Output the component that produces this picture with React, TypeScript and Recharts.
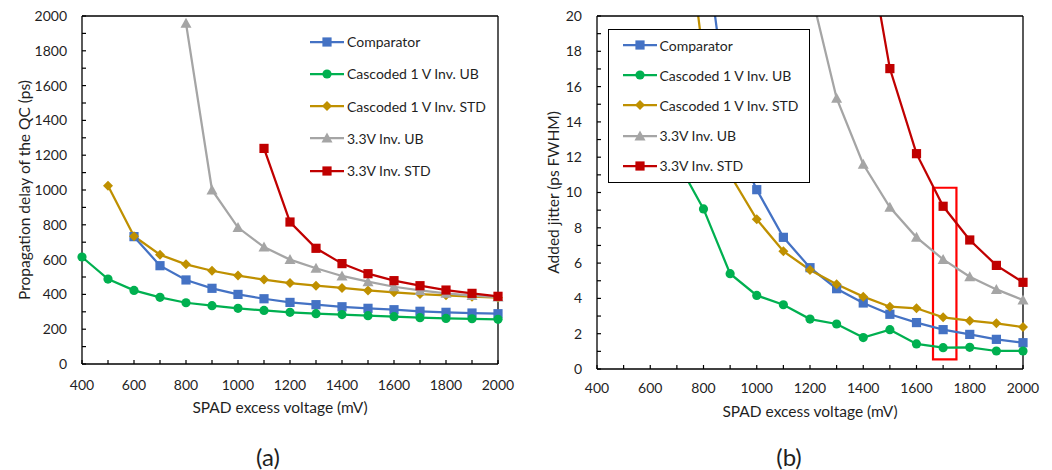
import React from "react";
import { LineChart, Line, XAxis, YAxis, Legend, ReferenceArea } from "recharts";

// SPAD excess voltage (mV)
const voltages = [400, 500, 600, 700, 800, 900, 1000, 1100, 1200, 1300, 1400, 1500, 1600, 1700, 1800, 1900, 2000];

const seriesNames = ["Comparator", "Cascoded 1 V Inv. UB", "Cascoded 1 V Inv. STD", "3.3V Inv. UB", "3.3V Inv. STD"];
const seriesKeys = ["cmp", "cub", "cstd", "hub", "hstd"];
const seriesColors = ["#4472C4", "#00B050", "#BF9000", "#A5A5A5", "#C00000"];
const seriesShapes = ["square", "circle", "diamond", "triangle", "square"];

// (a) propagation delay of the QC (ps)
const delayComparator = [null, null, 732, 565, 483, 435, 400, 375, 354, 341, 329, 320, 312, 303, 297, 293, 289];
const delayCascUB = [615, 488, 423, 383, 352, 335, 320, 308, 297, 289, 284, 278, 272, 266, 262, 260, 257];
const delayCascSTD = [null, 1025, 734, 628, 573, 536, 508, 485, 465, 450, 437, 423, 412, 402, 395, 387, 381];
const delay33UB = [null, null, null, null, 1958, 1000, 784, 672, 600, 550, 506, 473, 444, 423, 406, 393, 385];
const delay33STD = [null, null, null, null, null, null, null, 1239, 816, 665, 577, 519, 479, 450, 425, 406, 389];

// (b) added jitter (ps FWHM), values above 20 run off the top of the plot
const jitterComparator = [null, null, null, null, 25, 13.5, 10.16, 7.46, 5.74, 4.55, 3.74, 3.1, 2.63, 2.23, 1.96, 1.68, 1.49];
const jitterCascUB = [null, null, null, 11.8, 9.07, 5.4, 4.17, 3.64, 2.83, 2.55, 1.78, 2.23, 1.42, 1.21, 1.23, 1.02, 1.02];
const jitterCascSTD = [null, null, null, 29.7, 17.6, 11.0, 8.48, 6.67, 5.61, 4.8, 4.1, 3.53, 3.44, 2.93, 2.74, 2.59, 2.38];
const jitter33UB = [null, null, null, null, null, null, null, null, 21.6, 15.34, 11.6, 9.16, 7.46, 6.21, 5.23, 4.51, 3.91];
const jitter33STD = [null, null, null, null, null, null, null, null, null, null, 25.6, 17.02, 12.2, 9.22, 7.31, 5.87, 4.91];

const delayTicks = [0, 100, 200, 300, 400, 500, 600, 700, 800, 900, 1000, 1100, 1200, 1300, 1400, 1500, 1600, 1700, 1800, 1900, 2000];
const jitterTicks = [0, 1, 2, 3, 4, 5, 6, 7, 8, 9, 10, 11, 12, 13, 14, 15, 16, 17, 18, 19, 20];
const jitterMax = 20;

// highlighted region in (b)
const boxX = [1662, 1750];
const boxY = [0.55, 10.27];

const delaySeries = [delayComparator, delayCascUB, delayCascSTD, delay33UB, delay33STD];
const jitterSeries = [jitterComparator, jitterCascUB, jitterCascSTD, jitter33UB, jitter33STD];

const delayRows = voltages.map((v, i) => {
  const row: any = { v };
  seriesKeys.forEach((k, s) => (row[k] = delaySeries[s][i]));
  return row;
});

const jitterRows = voltages.map((v, i) => {
  const row: any = { v };
  seriesKeys.forEach((k, s) => {
    const val = jitterSeries[s][i];
    row[k] = val;
    row[k + "_m"] = val != null && val <= jitterMax ? val : null;
  });
  return row;
});

const FONT = "Lato, 'Open Sans', sans-serif";
const AXIS = "#000";
const TEXT = "#1f1f1f";

function Marker({ cx, cy, shape, color }: { cx: number; cy: number; shape: string; color: string }) {
  if (shape === "circle") return <circle cx={cx} cy={cy} r={4.6} fill={color} />;
  if (shape === "diamond")
    return <polygon points={`${cx},${cy - 5} ${cx + 5},${cy} ${cx},${cy + 5} ${cx - 5},${cy}`} fill={color} />;
  if (shape === "triangle")
    return <polygon points={`${cx},${cy - 5.5} ${cx + 5.5},${cy + 4.5} ${cx - 5.5},${cy + 4.5}`} fill={color} />;
  return <rect x={cx - 4.6} y={cy - 4.6} width={9.2} height={9.2} fill={color} />;
}

const makeDot = (shape: string, color: string) => (props: any) => {
  const { cx, cy, value, index } = props;
  if (value == null || typeof cx !== "number" || typeof cy !== "number" || isNaN(cy)) return <g key={`d-${index}`} />;
  return (
    <g key={`d-${index}`}>
      <Marker cx={cx} cy={cy} shape={shape} color={color} />
    </g>
  );
};

function LegendList({ rowHeight, bordered }: { rowHeight: number; bordered: boolean }) {
  return (
    <div
      style={{
        boxSizing: "border-box",
        border: bordered ? "1.5px solid #000" : "none",
        background: bordered ? "#fff" : "transparent",
        paddingLeft: bordered ? 13.5 : 0,
        width: "100%",
        height: "100%",
        fontFamily: FONT,
        fontSize: 14,
        color: TEXT,
      }}
    >
      {seriesNames.map((name, i) => (
        <div key={name} style={{ display: "flex", alignItems: "center", height: rowHeight, whiteSpace: "nowrap" }}>
          <svg width={34} height={12} style={{ marginRight: 3 }}>
            <line x1={0} y1={6} x2={34} y2={6} stroke={seriesColors[i]} strokeWidth={2.25} />
            <Marker cx={17} cy={6} shape={seriesShapes[i]} color={seriesColors[i]} />
          </svg>
          <span>{name}</span>
        </div>
      ))}
    </div>
  );
}

const tickStyle = { fontSize: 14, fill: TEXT };
const labelStyle = { fontSize: 15.5, fill: TEXT };

function DelayChart() {
  return (
    <LineChart width={530} height={420} data={delayRows} margin={{ top: 15, right: 31, bottom: 0, left: 0 }}>
      <XAxis
        dataKey="v"
        type="number"
        domain={[400, 2000]}
        ticks={voltages}
        interval={0}
        height={56}
        tickSize={-4}
        tickMargin={20}
        tickFormatter={(v: number) => (v % 200 === 0 ? String(v) : "")}
        axisLine={{ stroke: AXIS, strokeWidth: 1.3 }}
        tickLine={{ stroke: AXIS, strokeWidth: 1.2 }}
        tick={tickStyle}
        label={{ value: "SPAD excess voltage (mV)", position: "insideBottom", offset: 7, dx: -10, style: labelStyle }}
      />
      <XAxis
        xAxisId="top"
        orientation="top"
        dataKey="v"
        type="number"
        domain={[400, 2000]}
        ticks={voltages}
        interval={0}
        height={1}
        tickSize={-4}
        tick={false}
        axisLine={{ stroke: AXIS, strokeWidth: 1.3 }}
        tickLine={{ stroke: AXIS, strokeWidth: 1.2 }}
      />
      <YAxis
        type="number"
        domain={[0, 2000]}
        ticks={delayTicks}
        interval={0}
        width={82}
        tickSize={-4}
        tickMargin={19}
        tickFormatter={(v: number) => (v % 200 === 0 ? String(v) : "")}
        axisLine={{ stroke: AXIS, strokeWidth: 1.3 }}
        tickLine={{ stroke: AXIS, strokeWidth: 1.2 }}
        tick={tickStyle}
        label={{
          value: "Propagation delay of the QC (ps)",
          angle: -90,
          position: "insideLeft",
          offset: 24,
          style: { ...labelStyle, textAnchor: "middle" },
        }}
      />
      <YAxis
        yAxisId="right"
        orientation="right"
        type="number"
        domain={[0, 2000]}
        ticks={delayTicks}
        interval={0}
        width={1}
        tickSize={-4}
        tick={false}
        axisLine={{ stroke: AXIS, strokeWidth: 1.3 }}
        tickLine={{ stroke: AXIS, strokeWidth: 1.2 }}
      />
      <Legend
        layout="vertical"
        align="center"
        verticalAlign="middle"
        wrapperStyle={{ left: 310, top: 25.5, width: 215, height: 162 }}
        content={() => <LegendList rowHeight={32.25} bordered={false} />}
      />
      {seriesKeys.map((k, i) => (
        <Line
          key={k}
          type="linear"
          dataKey={k}
          name={seriesNames[i]}
          stroke={seriesColors[i]}
          strokeWidth={2.25}
          dot={makeDot(seriesShapes[i], seriesColors[i])}
          activeDot={false}
          isAnimationActive={false}
        />
      ))}
    </LineChart>
  );
}

function JitterChart() {
  return (
    <LineChart width={522} height={420} data={jitterRows} margin={{ top: 15, right: 28, bottom: 0, left: 0 }}>
      <XAxis
        dataKey="v"
        type="number"
        domain={[400, 2000]}
        ticks={voltages}
        interval={0}
        height={51}
        tickSize={-4}
        tickMargin={18}
        tickFormatter={(v: number) => (v % 200 === 0 ? String(v) : "")}
        axisLine={{ stroke: AXIS, strokeWidth: 1.3 }}
        tickLine={{ stroke: AXIS, strokeWidth: 1.2 }}
        tick={tickStyle}
        label={{ value: "SPAD excess voltage (mV)", position: "insideBottom", offset: 3, style: labelStyle }}
      />
      <XAxis
        xAxisId="top"
        orientation="top"
        dataKey="v"
        type="number"
        domain={[400, 2000]}
        ticks={voltages}
        interval={0}
        height={1}
        tickSize={-4}
        tick={false}
        axisLine={{ stroke: AXIS, strokeWidth: 1.3 }}
        tickLine={{ stroke: AXIS, strokeWidth: 1.2 }}
      />
      <YAxis
        type="number"
        domain={[0, jitterMax]}
        allowDataOverflow
        ticks={jitterTicks}
        interval={0}
        width={67}
        tickSize={-4}
        tickMargin={19}
        tickFormatter={(v: number) => (v % 2 === 0 ? String(v) : "")}
        axisLine={{ stroke: AXIS, strokeWidth: 1.3 }}
        tickLine={{ stroke: AXIS, strokeWidth: 1.2 }}
        tick={tickStyle}
        label={{
          value: "Added jitter (ps FWHM)",
          angle: -90,
          position: "insideLeft",
          offset: 23,
          style: { ...labelStyle, textAnchor: "middle" },
        }}
      />
      <YAxis
        yAxisId="right"
        orientation="right"
        type="number"
        domain={[0, jitterMax]}
        ticks={jitterTicks}
        interval={0}
        width={1}
        tickSize={-4}
        tick={false}
        axisLine={{ stroke: AXIS, strokeWidth: 1.3 }}
        tickLine={{ stroke: AXIS, strokeWidth: 1.2 }}
      />
      <YAxis yAxisId="m" type="number" domain={[0, jitterMax]} hide />
      {seriesKeys.map((k, i) => (
        <Line
          key={k}
          type="linear"
          dataKey={k}
          name={seriesNames[i]}
          stroke={seriesColors[i]}
          strokeWidth={2.25}
          dot={false}
          activeDot={false}
          isAnimationActive={false}
        />
      ))}
      {seriesKeys.map((k, i) => (
        <Line
          key={k + "_m"}
          yAxisId="m"
          type="linear"
          dataKey={k + "_m"}
          stroke="none"
          dot={makeDot(seriesShapes[i], seriesColors[i])}
          activeDot={false}
          legendType="none"
          isAnimationActive={false}
        />
      ))}
      <ReferenceArea
        x1={boxX[0]}
        x2={boxX[1]}
        y1={boxY[0]}
        y2={boxY[1]}
        fill="none"
        fillOpacity={0}
        stroke="#FF0000"
        strokeWidth={2.2}
        ifOverflow="visible"
      />
      <Legend
        layout="vertical"
        align="center"
        verticalAlign="middle"
        wrapperStyle={{ left: 78, top: 29, width: 202, height: 154 }}
        content={() => <LegendList rowHeight={30.2} bordered={true} />}
      />
    </LineChart>
  );
}

export default function App() {
  const caption = { position: "absolute" as const, width: 60, top: 443, lineHeight: "28px", fontSize: 24, textAlign: "center" as const, color: TEXT };
  return (
    <div style={{ position: "absolute", left: 0, top: 0, width: 1052, height: 470, background: "#fff", fontFamily: FONT }}>
      <div style={{ position: "absolute", left: 0, top: 0 }}>
        <DelayChart />
      </div>
      <div style={{ position: "absolute", left: 530, top: 0 }}>
        <JitterChart />
      </div>
      <div style={{ ...caption, left: 268 - 30 }}>(a)</div>
      <div style={{ ...caption, left: 789 - 30 }}>(b)</div>
    </div>
  );
}
